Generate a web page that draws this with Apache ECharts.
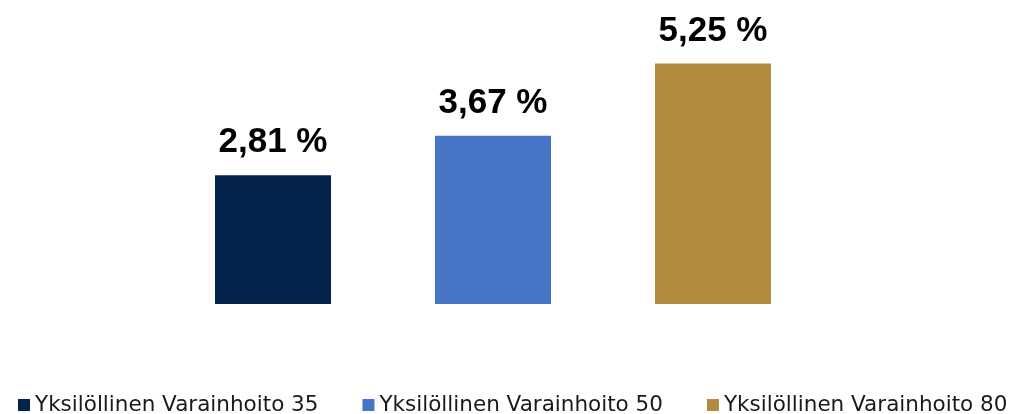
<!DOCTYPE html>
<html>
<head>
<meta charset="utf-8">
<script src="https://cdn.jsdelivr.net/npm/echarts@6/dist/echarts.min.js"></script>
<style>
  html, body { margin: 0; padding: 0; background: #fff; }
  #chart { width: 1015px; height: 414px; }
</style>
</head>
<body>
<div id="chart"></div>
<script>
// data
const categories = ['35', '50', '80'];
const seriesNames = ['Yksilöllinen Varainhoito 35', 'Yksilöllinen Varainhoito 50', 'Yksilöllinen Varainhoito 80'];
const values = [2.81, 3.67, 5.25];
const colors = ['#02234a', '#4775c6', '#b38b40'];

const chart = echarts.init(document.getElementById('chart'));

// one series per bar so each gets its own legend entry
const series = seriesNames.map((name, i) => ({
  name: name,
  type: 'bar',
  stack: 'all',
  barWidth: 116,
  itemStyle: { color: colors[i] },
  label: {
    show: true,
    position: 'top',
    distance: 15,
    color: '#000',
    fontFamily: 'Liberation Sans',
    fontWeight: 'bold',
    fontSize: 35,
    formatter: p => p.value.toFixed(2).replace('.', ',') + ' %'
  },
  data: categories.map((c, j) => (j === i ? values[i] : '-'))
}));

chart.setOption({
  animation: false,
  color: colors,
  grid: { left: 163, right: 192, top: 29, bottom: 110 },
  legend: {
    top: 389,
    left: 13,
    icon: 'rect',
    itemWidth: 12,
    itemHeight: 12,
    itemGap: 44,
    textStyle: { fontFamily: 'DejaVu Sans', fontSize: 21.5, color: '#1a1a1a' },
    data: seriesNames
  },
  xAxis: {
    type: 'category',
    data: categories,
    axisLine: { show: false },
    axisTick: { show: false },
    axisLabel: { show: false }
  },
  yAxis: {
    type: 'value',
    min: 0,
    max: 6,
    show: false,
    splitLine: { show: false }
  },
  series: series
});
</script>
</body>
</html>
